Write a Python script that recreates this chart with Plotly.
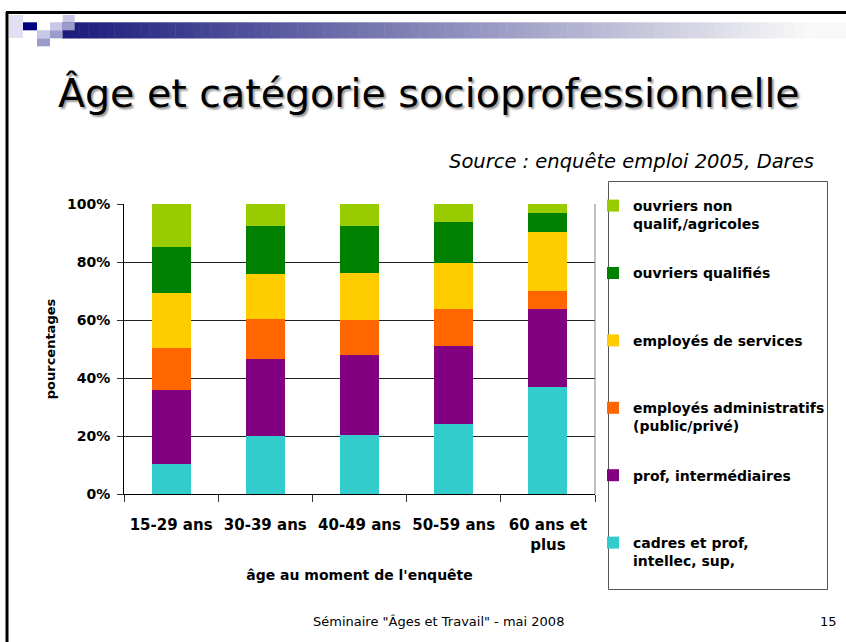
import plotly.graph_objs as go

# age groups (x categories)
ages = ['15-29 ans', '30-39 ans', '40-49 ans', '50-59 ans', '60 ans et<br>plus']

# share of each socioprofessional category, in %, bottom to top
cadres = [10.4, 20.1, 20.2, 24.2, 36.9]
prof_inter = [25.6, 26.5, 27.6, 26.9, 26.8]
empl_admin = [14.5, 13.7, 12.3, 12.7, 6.3]
empl_serv = [18.8, 15.6, 16.2, 15.9, 20.4]
ouv_qual = [16.0, 16.6, 16.2, 14.1, 6.4]
ouv_nonqual = [14.7, 7.5, 7.5, 6.2, 3.2]

series = [
    ('cadres et prof,<br>intellec, sup,', cadres, '#33CCCC'),
    ('prof, intermédiaires<br> ', prof_inter, '#800080'),
    ('employés administratifs<br>(public/privé)', empl_admin, '#FF6600'),
    ('employés de services<br> ', empl_serv, '#FFCC00'),
    ('ouvriers qualifiés<br> ', ouv_qual, '#008000'),
    ('ouvriers non<br>qualif,/agricoles', ouv_nonqual, '#99CC00'),
]

FONT = 'DejaVu Sans'
W, H = 846, 642
L, R, T, B = 124, 595, 204, 494   # plot area in pixels


# pixel -> paper coordinates (for the slide decoration)
def px(x):
    return (x - L) / (R - L)


def py(y):
    return (B - y) / (B - T)


graph = []
for i, (name, vals, col) in enumerate(series):
    graph.append(
        go.Bar(
            x=ages,
            y=vals,
            name=name,
            legendgroup=str(i),
            legendrank=len(series) - i,
            marker=dict(color=col, line=dict(width=0)),
        )
    )

shapes = []
# slide frame
shapes.append(dict(type='line', xref='paper', yref='paper', x0=px(6), x1=px(846), y0=py(12.5), y1=py(12.5),
                   line=dict(color='black', width=3), layer='above'))
shapes.append(dict(type='line', xref='paper', yref='paper', x0=px(7), x1=px(7), y0=py(12), y1=py(642),
                   line=dict(color='black', width=3), layer='above'))

# gradient band at top
n = 90
x_start, x_end = 62, 846
for k in range(n):
    t = k / (n - 1)
    r = int(27 + (248 - 27) * min(1, t * 1.05))
    g = int(27 + (248 - 27) * min(1, t * 1.05))
    b = int(125 + (248 - 125) * min(1, t * 1.05))
    xa = x_start + (x_end - x_start) * k / n
    xb = x_start + (x_end - x_start) * (k + 1) / n + 0.5
    shapes.append(dict(type='rect', xref='paper', yref='paper', x0=px(xa), x1=px(xb), y0=py(22.3), y1=py(38.5),
                       line=dict(width=0), fillcolor='rgb(%d,%d,%d)' % (r, g, b)))

# little squares top-left
squares = [
    (9, 23, 15, 38, '#E0E0F2'),
    (23, 37, 22.3, 30.3, '#000080'),
    (37, 50, 30.3, 38.3, '#C8C8E6'),
    (37, 50, 38.3, 46.3, '#9C9CCC'),
    (50, 62.7, 22.3, 30.3, '#C8C8E6'),
    (50, 62.7, 30.3, 38.3, '#9C9CCC'),
    (62.7, 74.7, 15, 22.3, '#C8C8E6'),
    (62.7, 74.7, 22.3, 30.3, '#9C9CCC'),
]
for x0, x1, y0, y1, c in squares:
    shapes.append(dict(type='rect', xref='paper', yref='paper', x0=px(x0), x1=px(x1), y0=py(y0), y1=py(y1),
                       line=dict(width=0), fillcolor=c))

# right border of the plot area
shapes.append(dict(type='line', xref='paper', yref='paper', x0=1, x1=1, y0=0, y1=1,
                   line=dict(color='#808080', width=1)))
# legend box
shapes.append(dict(type='rect', xref='paper', yref='paper', x0=px(608.5), x1=px(827.5), y0=py(181.5), y1=py(589.5),
                   line=dict(color='#555555', width=1)))

annotations = [
    dict(text='Âge et catégorie socioprofessionnelle', xref='paper', yref='paper', x=px(429), y=py(93),
         xanchor='center', yanchor='middle', showarrow=False,
         font=dict(family=FONT, size=39.5, color='black', shadow='2px 2px 2px #999999')),
    dict(text='<i>Source : enquête emploi 2005, Dares</i>', xref='paper', yref='paper', x=px(816), y=py(161),
         xanchor='right', yanchor='middle', showarrow=False,
         font=dict(family=FONT, size=19.5, color='black')),
    dict(text='Séminaire "Âges et Travail" - mai 2008', xref='paper', yref='paper', x=px(438), y=py(621),
         xanchor='center', yanchor='middle', showarrow=False,
         font=dict(family=FONT, size=13, color='black')),
    dict(text='15', xref='paper', yref='paper', x=px(828), y=py(621),
         xanchor='center', yanchor='middle', showarrow=False,
         font=dict(family=FONT, size=13, color='black')),
]

layout = dict(
    width=W, height=H,
    margin=dict(l=L, r=W - R, t=T, b=H - B, pad=0, autoexpand=False),
    paper_bgcolor='white', plot_bgcolor='white',
    font=dict(family=FONT, color='black'),
    barmode='stack', bargap=0.585,
    showlegend=True,
    legend=dict(xref='container', yref='container', x=593 / W, y=1 - 190 / H,
                xanchor='left', yanchor='top', traceorder='grouped', maxheight=460,
                tracegroupgap=28, valign='top', bgcolor='rgba(0,0,0,0)',
                font=dict(family=FONT, size=14, color='black', weight='bold')),
    xaxis=dict(type='category', showgrid=False, showline=True, linecolor='black', linewidth=1,
               ticks='outside', tickson='boundaries', ticklen=7, tickcolor='#333333',
               tickangle=0,
               tickfont=dict(family=FONT, size=15, color='black', weight='bold'),
               ticklabelstandoff=17,
               title=dict(text='âge au moment de l\'enquête', standoff=17,
                          font=dict(family=FONT, size=14, color='black', weight='bold'))),
    yaxis=dict(range=[0, 100], dtick=20, ticksuffix='%', showgrid=True, gridcolor='#222222', gridwidth=1,
               showline=True, linecolor='black', linewidth=1, zeroline=False,
               ticks='outside', ticklen=6, tickcolor='#333333',
               tickfont=dict(family=FONT, size=14, color='black', weight='bold'),
               ticklabelstandoff=4,
               title=dict(text='pourcentages', standoff=8,
                          font=dict(family=FONT, size=13, color='black', weight='bold'))),
    shapes=shapes,
    annotations=annotations,
)

fig = go.Figure(data=graph, layout=layout)
# drop the default page margin so the slide sits at the window's top-left corner
fig.write_html("out.html", config={'displayModeBar': False},
               post_script="document.body.style.margin='0px';")
